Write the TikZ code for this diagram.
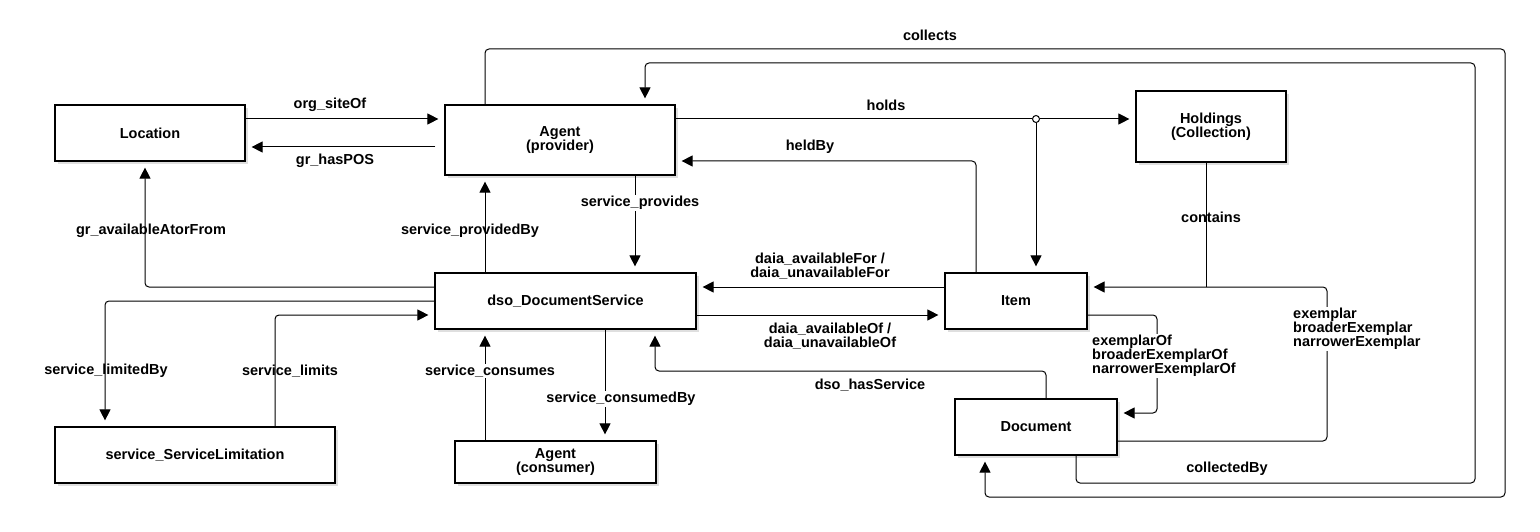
\documentclass[tikz,border=0pt]{standalone}
\usepackage{fontspec}
\setmainfont{Liberation Sans}
\usetikzlibrary{arrows.meta}
\usetikzlibrary{shadows}
\tikzset{
  entity/.style={draw, line width=1.2pt, fill=white, inner sep=0pt, align=center,
    drop shadow={shadow xshift=3pt, shadow yshift=-3pt, opacity=0.25}},
  rel/.style={line width=1pt, rounded corners=4pt},
  arr/.style={rel, -{Triangle[length=11pt,width=11pt]}, shorten >=6pt},
  tag/.style={inner sep=1pt},
  lbl/.style={tag, fill=white}
}

\begin{document}
\begin{tikzpicture}[x=1pt,y=-1pt,font=\bfseries\fontsize{14.5}{14}\selectfont]
  \fill[white] (0,0) rectangle (1540,532);

  % classes
  \node[entity, minimum width=190pt, minimum height=56pt] (location) at (150,133) {Location};
  \node[entity, minimum width=230pt, minimum height=70pt] (provider) at (560,140) {Agent\\(provider)};
  \node[entity, minimum width=150pt, minimum height=71pt] (holdings) at (1211,126.5) {Holdings\\(Collection)};
  \node[entity, minimum width=261pt, minimum height=56pt] (service) at (565.5,301) {dso\_DocumentService};
  \node[entity, minimum width=142pt, minimum height=56pt] (item) at (1016,301) {Item};
  \node[entity, minimum width=162pt, minimum height=56pt] (document) at (1036,427) {Document};
  \node[entity, minimum width=280pt, minimum height=56pt] (limitation) at (195,455) {service\_ServiceLimitation};
  \node[entity, minimum width=201pt, minimum height=42pt] (consumer) at (555.5,462) {Agent\\(consumer)};
  \node[circle, draw, fill=white, line width=1pt, minimum size=7pt, inner sep=0pt] (hub) at (1036,119) {};
  \coordinate (join) at (1206,287);

  % relations
  \draw[arr] (location.east |- 0,119) -- (provider.west |- 0,119);
  \draw[arr, shorten <=9pt] (provider.west |- 0,147) -- (location.east |- 0,147);
  \draw[arr] (provider.north -| 485,0) |- (1505,49) -- (1505,497) -| (document.south -| 985,0);
  \draw[arr] (document.south -| 1076,0) |- (1475,483) -- (1475,63) -| (provider.north -| 645,0);
  \draw[rel] (provider.east |- hub) -- (hub.west);
  \draw[arr] (hub.east) -- (holdings.west |- hub);
  \draw[arr] (hub.south) -- (item.north -| hub);
  \draw[arr] (item.north -| 976,0) |- (provider.east |- 0,161);
  \draw[arr] (provider.south -| 635,0) -- (service.north -| 635,0);
  \draw[arr] (service.north -| 485,0) -- (provider.south -| 485,0);
  \draw[arr] (service.west |- 0,287) -| (location.south -| 145,0);
  \draw[arr] (service.west |- 0,301) -| (limitation.north -| 105,0);
  \draw[arr] (limitation.north -| 275,0) |- (service.west |- 0,315);
  \draw[arr] (consumer.north -| 485,0) -- (service.south -| 485,0);
  \draw[arr] (service.south -| 605,0) -- (consumer.north -| 605,0);
  \draw[arr] (item.west |- 0,287) -- (service.east |- 0,287);
  \draw[arr] (service.east |- 0,315) -- (item.west |- 0,315);
  \draw[arr] (document.north -| 1046,0) |- (655,371) -- (service.south -| 655,0);
  \draw[arr] (item.east |- 0,315) -| (1157,413) -- (document.east |- 0,413);
  \draw[arr] (document.east |- 0,441) -| (1327,287) -- (item.east |- 0,287);
  \draw[rel] (holdings.south -| join) -- (join);

  % relation names
  \node[tag] (siteof) at (330,105) {org\_siteOf};
  \node[tag] (haspos) at (335,161) {gr\_hasPOS};
  \node[tag] (collects) at (930,35) {collects};
  \node[tag] (collectedby) at (1227,469) {collectedBy};
  \node[tag] (holds) at (886,105) {holds};
  \node[tag] (heldby) at (810,147) {heldBy};
  \node[lbl] (provides) at (640,203) {service\_provides};
  \node[tag] (providedby) at (470,231) {service\_providedBy};
  \node[tag] (availableat) at (151,231) {gr\_availableAtorFrom};
  \node[tag] (limitedby) at (106,371) {service\_limitedBy};
  \node[tag] (limits) at (290,371) {service\_limits};
  \node[lbl] (consumes) at (490,371) {service\_consumes};
  \node[lbl] (consumedby) at (621,399) {service\_consumedBy};
  \node[tag, align=center] (availfor) at (820,266) {daia\_availableFor /\\daia\_unavailableFor};
  \node[tag, align=center] (availof) at (830,336) {daia\_availableOf /\\daia\_unavailableOf};
  \node[tag] (hasservice) at (870,385) {dso\_hasService};
  \node[lbl, align=left, anchor=west] (exemplarof) at (1091,356) {exemplarOf\\broaderExemplarOf\\narrowerExemplarOf};
  \node[lbl, align=left, anchor=west] (exemplar) at (1292,329) {exemplar\\broaderExemplar\\narrowerExemplar};
  \node[tag] (contains) at (1211,217) {contains};
\end{tikzpicture}
\end{document}
